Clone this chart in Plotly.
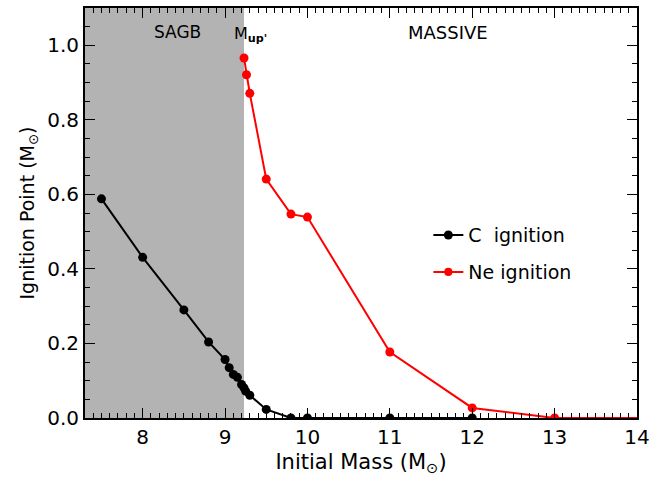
import plotly.graph_objects as go

# Data
c_mass = [7.5, 8.0, 8.5, 8.8, 9.0, 9.05, 9.1, 9.15, 9.2, 9.23, 9.25, 9.3, 9.5, 9.8, 10.0, 11.0, 12.0]
c_ign = [0.588, 0.431, 0.290, 0.204, 0.157, 0.135, 0.117, 0.109, 0.090, 0.081, 0.072, 0.061, 0.023, 0.0, 0.0, 0.0, 0.0]

ne_mass = [9.23, 9.26, 9.3, 9.5, 9.8, 10.0, 11.0, 12.0, 13.0, 14.0]
ne_ign = [0.966, 0.921, 0.871, 0.641, 0.547, 0.539, 0.177, 0.027, 0.0, 0.0]

m_up = 9.23
x_range = [7.3, 14.0]
y_range = [0.0, 1.1]

FONT = "DejaVu Sans"

fig = go.Figure()

fig.add_shape(type="rect", xref="x", yref="y", x0=x_range[0], x1=m_up,
              y0=y_range[0], y1=y_range[1], fillcolor="#b3b3b3",
              line=dict(width=0), layer="below")

fig.add_trace(go.Scatter(x=c_mass, y=c_ign, mode="lines+markers", name="C  ignition",
                         line=dict(color="black", width=2),
                         marker=dict(color="black", size=9, opacity=1, line=dict(width=0)),
                         legend="legend"))
ne_sizes = [9] * (len(ne_mass) - 1) + [0]
fig.add_trace(go.Scatter(x=ne_mass, y=ne_ign, mode="lines+markers", name="Ne ignition",
                         line=dict(color="#ff0000", width=2),
                         marker=dict(color="#ff0000", size=ne_sizes, opacity=1, line=dict(width=0)),
                         legend="legend2"))

axis_common = dict(showgrid=False, zeroline=False, showline=True, linecolor="black",
                   linewidth=2, mirror="allticks", ticks="inside", ticklen=10,
                   tickwidth=1, tickcolor="black",
                   tickfont=dict(family=FONT, size=20, color="black"))

fig.update_xaxes(range=x_range, tickmode="linear", tick0=8, dtick=1,
                 title=dict(text="Initial Mass (M<sub>⊙</sub>)",
                            font=dict(family=FONT, size=21, color="black"), standoff=6),
                 minor=dict(dtick=0.1, ticklen=5, ticks="inside",
                            tickcolor="black", tickwidth=1, showgrid=False),
                 **axis_common)
fig.update_yaxes(range=y_range, tickmode="linear", tick0=0, dtick=0.2, tickformat=".1f",
                 title=dict(text="Ignition Point (M<sub>⊙</sub>)",
                            font=dict(family=FONT, size=19, color="black"), standoff=8),
                 minor=dict(dtick=0.05, ticklen=5, ticks="inside",
                            tickcolor="black", tickwidth=1, showgrid=False),
                 **axis_common)

fig.add_annotation(x=8.42, y=1.035, xref="x", yref="y", text="SAGB", showarrow=False,
                   font=dict(family=FONT, size=17, color="black"))
fig.add_annotation(x=11.71, y=1.035, xref="x", yref="y", text="MASSIVE", showarrow=False,
                   font=dict(family=FONT, size=18, color="black"))
fig.add_annotation(x=9.09, y=1.03, xref="x", yref="y", text="M<sub><b>up'</b></sub>",
                   showarrow=False, xanchor="left",
                   font=dict(family=FONT, size=16, color="black"))

leg = dict(font=dict(family=FONT, size=19, color="black"), bgcolor="rgba(0,0,0,0)",
           xanchor="left", yanchor="middle", borderwidth=0)
fig.update_layout(
    template="none",
    width=651, height=483,
    margin=dict(l=85, r=14, t=8, b=65),
    plot_bgcolor="white", paper_bgcolor="white",
    showlegend=True,
    legend=dict(x=0.622, y=0.446, **leg),
    legend2=dict(x=0.622, y=0.356, **leg),
)

fig.write_html("out.html")
